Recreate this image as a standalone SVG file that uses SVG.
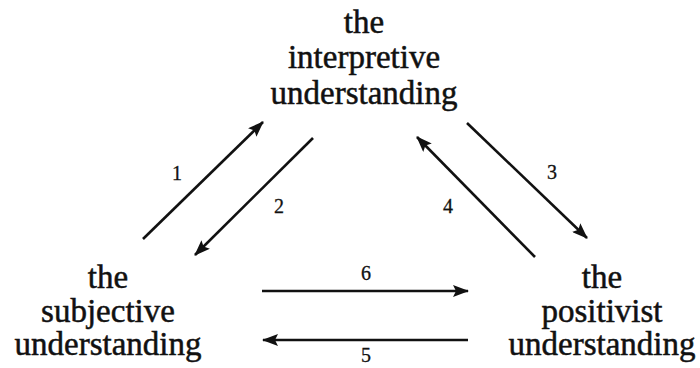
<svg xmlns="http://www.w3.org/2000/svg" width="700" height="368" viewBox="0 0 700 368">
<style>
text{font-family:'Liberation Serif','DejaVu Serif',serif}
.node text{font-size:33px;fill:#111;text-anchor:middle;stroke:#111;stroke-width:0.5}
.lbl{font-size:20px;fill:#111;text-anchor:middle;stroke:#111;stroke-width:0.3}
.conn line{stroke:#111;stroke-width:2.6;marker-end:url(#ah)}
</style>
<defs>
<marker id="ah" viewBox="0 0 16 12" refX="15" refY="6" markerWidth="16" markerHeight="12" markerUnits="userSpaceOnUse" orient="auto">
<path d="M0,0 L16,6 L0,12 L3,6 Z" fill="#111"/>
</marker>
</defs>
<rect width="700" height="368" fill="#fff"/>
<g id="interpretive" class="node">
<text x="364" y="33">the</text>
<text x="364" y="68">interpretive</text>
<text x="364" y="104">understanding</text>
</g>
<g id="subjective" class="node">
<text x="108" y="288">the</text>
<text x="108" y="322">subjective</text>
<text x="108" y="355">understanding</text>
</g>
<g id="positivist" class="node">
<text x="602" y="288">the</text>
<text x="602" y="322">positivist</text>
<text x="602" y="355">understanding</text>
</g>
<g id="connectors" class="conn">
<line x1="143" y1="239" x2="263" y2="122"/>
<line x1="313" y1="138" x2="195" y2="255"/>
<line x1="467" y1="123" x2="587" y2="238"/>
<line x1="535" y1="257" x2="417" y2="137"/>
<line x1="262" y1="291" x2="468" y2="291"/>
<line x1="468" y1="340" x2="263" y2="340"/>
</g>
<g id="labels">
<text class="lbl" x="177" y="180">1</text>
<text class="lbl" x="279" y="213">2</text>
<text class="lbl" x="552" y="179">3</text>
<text class="lbl" x="448" y="213">4</text>
<text class="lbl" x="366" y="362">5</text>
<text class="lbl" x="366" y="280">6</text>
</g>
</svg>
